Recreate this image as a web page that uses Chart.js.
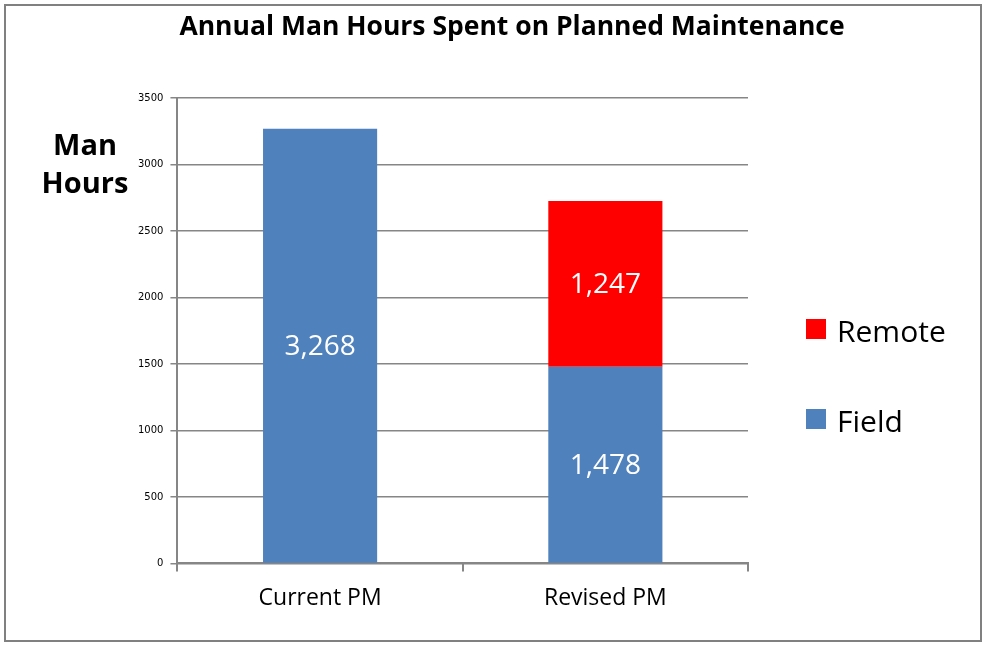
<!DOCTYPE html>
<html>
<head>
<meta charset="utf-8">
<script src="https://cdn.jsdelivr.net/npm/chart.js@4.4.1/dist/chart.umd.min.js"></script>
<style>
  html, body { margin: 0; padding: 0; background: #ffffff; }
  #wrap { width: 985px; height: 646px; }
</style>
</head>
<body>
<div id="wrap"><canvas id="chart" width="985" height="646"></canvas></div>
<script>
const categories = ["Current PM", "Revised PM"];
const fieldHours = [3268, 1478];
const remoteHours = [null, 1247];
const yTicks = [0, 500, 1000, 1500, 2000, 2500, 3000, 3500];

const FONT = "'Open Sans', sans-serif";
const GRID = "#868686";

// frame, title, axis caption and legend
const extras = {
  id: "extras",
  beforeDraw(chart) {
    const ctx = chart.ctx;
    ctx.save();
    ctx.fillStyle = "#ffffff";
    ctx.fillRect(0, 0, chart.width, chart.height);
    ctx.strokeStyle = "#808080";
    ctx.lineWidth = 2;
    ctx.strokeRect(5, 5, 976, 636);
    ctx.restore();
  },
  afterDraw(chart) {
    const ctx = chart.ctx;
    ctx.save();
    ctx.fillStyle = "#000000";
    ctx.textAlign = "center";
    ctx.textBaseline = "alphabetic";
    ctx.font = "bold 26.5px " + FONT;
    ctx.fillText("Annual Man Hours Spent on Planned Maintenance", 512, 35);

    ctx.font = "bold 29px " + FONT;
    ctx.fillText("Man", 85, 155);
    ctx.fillText("Hours", 85, 193);

    // legend, top item = last dataset
    const ds = chart.data.datasets.slice().reverse();
    const rows = [342, 432];
    ctx.textAlign = "left";
    ctx.font = "30px " + FONT;
    ds.forEach((d, i) => {
      ctx.fillStyle = d.backgroundColor;
      ctx.fillRect(806, rows[i] - 23, 20, 20);
      ctx.fillStyle = "#000000";
      ctx.fillText(d.label, 837, rows[i]);
    });
    ctx.restore();
  },
  afterDatasetsDraw(chart) {
    const ctx = chart.ctx;
    ctx.save();
    ctx.fillStyle = "#ffffff";
    ctx.font = "28px " + FONT;
    ctx.textAlign = "center";
    ctx.textBaseline = "middle";
    chart.data.datasets.forEach((d, di) => {
      const meta = chart.getDatasetMeta(di);
      meta.data.forEach((bar, i) => {
        const v = d.data[i];
        if (v == null) return;
        const p = bar.getCenterPoint();
        ctx.fillText(v.toLocaleString("en-US"), p.x, p.y + 1);
      });
    });
    ctx.restore();
  }
};

new Chart(document.getElementById("chart"), {
  type: "bar",
  data: {
    labels: categories,
    datasets: [
      { label: "Field", data: fieldHours, backgroundColor: "#4F81BD" },
      { label: "Remote", data: remoteHours, backgroundColor: "#FF0000" }
    ]
  },
  options: {
    responsive: false,
    animation: false,
    events: [],
    layout: { padding: { top: 98, left: 131, right: 237, bottom: 21 } },
    datasets: { bar: { barPercentage: 0.4, categoryPercentage: 1 } },
    plugins: {
      legend: { display: false },
      title: { display: false },
      tooltip: { enabled: false }
    },
    scales: {
      x: {
        stacked: true,
        grid: {
          display: true,
          offset: true,
          drawOnChartArea: false,
          drawTicks: true,
          tickLength: 8,
          color: GRID,
          lineWidth: 2
        },
        border: { display: true, color: GRID, width: 2 },
        ticks: { color: "#000000", padding: 13, font: { family: FONT, size: 23 } }
      },
      y: {
        stacked: true,
        min: 0,
        max: 3500,
        afterBuildTicks: (axis) => { axis.ticks = yTicks.map(v => ({ value: v })); },
        grid: { color: GRID, lineWidth: 1.5, tickLength: 7 },
        border: { display: true, color: GRID, width: 2 },
        ticks: {
          color: "#000000",
          padding: 7,
          font: { family: "'DejaVu Sans', sans-serif", size: 10 },
          callback: v => String(v)
        }
      }
    }
  },
  plugins: [extras]
});
</script>
</body>
</html>
